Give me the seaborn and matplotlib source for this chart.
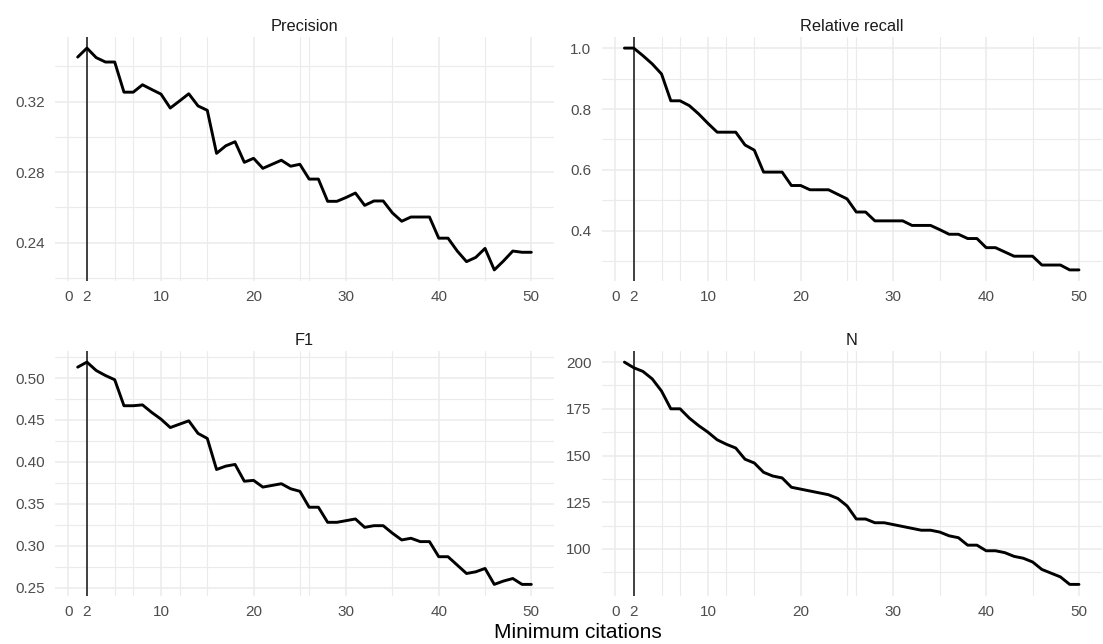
import matplotlib
matplotlib.use("Agg")
import matplotlib.pyplot as plt
import seaborn as sns
import pandas as pd

# ---------------- data ----------------
min_citations = list(range(1, 51))

precision = [0.3453, 0.3504, 0.3450, 0.3425, 0.3425, 0.3254, 0.3254, 0.3296, 0.3269, 0.3243,
             0.3164, 0.3204, 0.3245, 0.3176, 0.3151, 0.2907, 0.2950, 0.2973, 0.2856, 0.2879,
             0.2822, 0.2845, 0.2868, 0.2834, 0.2845, 0.2761, 0.2761, 0.2635, 0.2635, 0.2657,
             0.2682, 0.2612, 0.2637, 0.2637, 0.2569, 0.2522, 0.2546, 0.2546, 0.2546, 0.2426,
             0.2426, 0.2353, 0.2293, 0.2317, 0.2368, 0.2246, 0.2297, 0.2353, 0.2346, 0.2346]

relative_recall = [1.000, 1.000, 0.975, 0.948, 0.915, 0.827, 0.827, 0.811, 0.784, 0.753,
                   0.724, 0.724, 0.724, 0.682, 0.665, 0.593, 0.593, 0.593, 0.549, 0.549,
                   0.535, 0.535, 0.535, 0.520, 0.505, 0.462, 0.462, 0.433, 0.433, 0.433,
                   0.433, 0.418, 0.418, 0.418, 0.404, 0.389, 0.389, 0.375, 0.375, 0.345,
                   0.345, 0.331, 0.317, 0.317, 0.317, 0.288, 0.288, 0.288, 0.272, 0.272]

f1 = [0.513, 0.519, 0.509, 0.503, 0.498, 0.467, 0.467, 0.468, 0.459, 0.451,
      0.441, 0.445, 0.449, 0.434, 0.428, 0.391, 0.395, 0.397, 0.377, 0.378,
      0.370, 0.372, 0.374, 0.368, 0.365, 0.346, 0.346, 0.328, 0.328, 0.330,
      0.332, 0.322, 0.324, 0.324, 0.315, 0.307, 0.309, 0.305, 0.305, 0.287,
      0.287, 0.277, 0.267, 0.269, 0.273, 0.254, 0.258, 0.261, 0.254, 0.254]

n_docs = [200, 197, 195, 191, 184.5, 175, 175, 170, 166, 162.5,
          158.4, 156, 154, 148, 146, 141, 139, 138, 133, 132,
          131, 130, 129, 127, 123, 116, 116, 114, 114, 113,
          112, 111, 110, 110, 109, 107, 106, 102, 102, 99,
          99, 98, 96, 95, 93, 89, 87, 85, 81, 81]

panel_titles = ["Precision", "Relative recall", "F1", "N"]
x_ticks = [0, 2, 10, 20, 30, 40, 50]
x_minor = [5, 7, 12, 15, 25, 26, 35, 45]
cutoff = 2

y_ticks = {
    "Precision": [0.24, 0.28, 0.32],
    "Relative recall": [0.4, 0.6, 0.8, 1.0],
    "F1": [0.25, 0.30, 0.35, 0.40, 0.45, 0.50],
    "N": [100, 125, 150, 175, 200],
}
y_minor = {
    "Precision": [0.22, 0.26, 0.30, 0.34],
    "Relative recall": [0.3, 0.5, 0.7, 0.9],
    "F1": [0.275, 0.325, 0.375, 0.425, 0.475, 0.525],
    "N": [87.5, 112.5, 137.5, 162.5, 187.5],
}
y_fmt = {"Precision": "{:.2f}", "Relative recall": "{:.1f}", "F1": "{:.2f}", "N": "{:.0f}"}

series = {"Precision": precision, "Relative recall": relative_recall, "F1": f1, "N": n_docs}

df = pd.concat([
    pd.DataFrame({"min_citations": min_citations, "value": vals, "metric": name})
    for name, vals in series.items()
])

# ---------------- styling ----------------
sns.set_theme(style="white")
plt.rcParams["font.family"] = ["Liberation Sans", "DejaVu Sans"]

W, H = 1103, 644
fig = plt.figure(figsize=(W / 100, H / 100), dpi=100)
fig.patch.set_facecolor("white")

# panel boxes in pixel coords (left, top, right, bottom)
boxes = {
    "Precision": (55, 37, 554, 281),
    "Relative recall": (601.7, 37, 1101.7, 281),
    "F1": (55, 351, 554, 595.5),
    "N": (601.7, 351, 1101.7, 595.5),
}

grid_col = "#EBEBEB"

for name in panel_titles:
    l, t, r, b = boxes[name]
    ax = fig.add_axes([l / W, 1 - b / H, (r - l) / W, (b - t) / H])
    sub = df[df["metric"] == name]

    # limits with 5% expansion (ggplot-like)
    xmin, xmax = min(min_citations), max(min_citations)
    xr = xmax - xmin
    ax.set_xlim(xmin - 0.05 * xr, xmax + 0.05 * xr)
    ymin, ymax = sub["value"].min(), sub["value"].max()
    yr = ymax - ymin
    ax.set_ylim(ymin - 0.05 * yr, ymax + 0.05 * yr)

    # grid
    for xv in x_minor:
        ax.axvline(xv, color=grid_col, lw=0.8, zorder=0)
    for xv in x_ticks:
        ax.axvline(xv, color=grid_col, lw=1.1, zorder=0)
    for yv in y_minor[name]:
        ax.axhline(yv, color=grid_col, lw=0.8, zorder=0)
    for yv in y_ticks[name]:
        ax.axhline(yv, color=grid_col, lw=1.1, zorder=0)

    ax.axvline(cutoff, color="#333333", lw=1.3, zorder=2)

    sns.lineplot(data=sub, x="min_citations", y="value", ax=ax,
                 color="black", linewidth=2.1, zorder=3, legend=False)

    ax.set_xticks(x_ticks)
    ax.set_xticklabels([str(v) for v in x_ticks])
    ax.set_yticks(y_ticks[name])
    ax.set_yticklabels([y_fmt[name].format(v) for v in y_ticks[name]])
    ax.tick_params(axis="both", length=0, labelsize=11, colors="#4D4D4D")
    ax.tick_params(axis="x", pad=6.5)
    ax.tick_params(axis="y", pad=7.5)
    ax.set_xlabel("")
    ax.set_ylabel("")
    for s in ax.spines.values():
        s.set_visible(False)
    ax.grid(False)
    ax.set_facecolor("white")
    ax.set_title(name, fontsize=11.8, color="#1A1A1A", pad=4.5)

fig.text(578 / W, 1 - 632 / H, "Minimum citations", ha="center", va="center",
         fontsize=15, color="black")

fig.savefig("out.png", dpi=100, facecolor="white")
